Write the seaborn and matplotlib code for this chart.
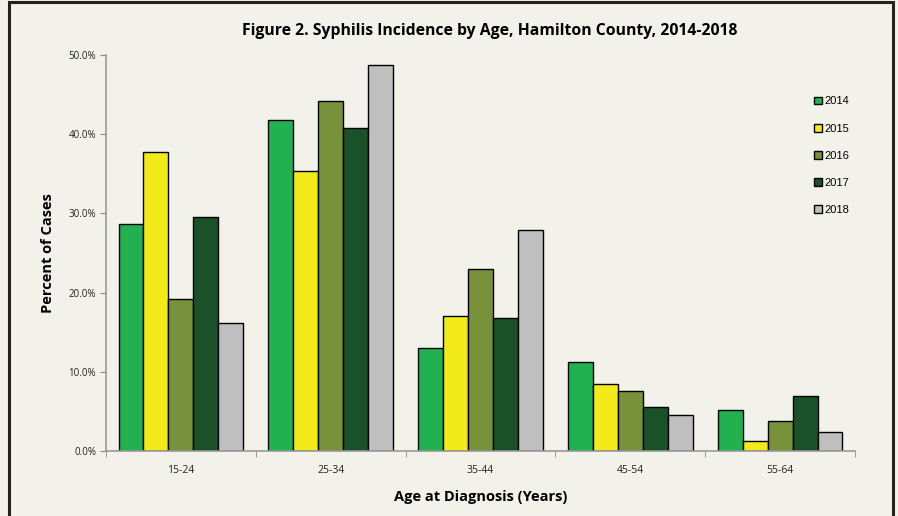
import matplotlib
matplotlib.use("Agg")
import matplotlib.pyplot as plt
import matplotlib.patches as mpatches
from matplotlib.ticker import PercentFormatter, FixedLocator
import seaborn as sns
import pandas as pd

age_groups = ['15-24', '25-34', '35-44', '45-54', '55-64']
years = ['2014', '2015', '2016', '2017', '2018']
pct_2014 = [28.7, 41.8, 13.0, 11.2, 5.2]
pct_2015 = [37.7, 35.4, 17.0, 8.5, 1.2]
pct_2016 = [19.2, 44.2, 23.0, 7.6, 3.8]
pct_2017 = [29.6, 40.8, 16.8, 5.6, 7.0]
pct_2018 = [16.2, 48.8, 27.9, 4.6, 2.4]
year_colors = ['#21B24F', '#F2EA19', '#77923A', '#1A5129', '#BFBFBF']

rows = []
for yr, vals in zip(years, [pct_2014, pct_2015, pct_2016, pct_2017, pct_2018]):
    for ag, v in zip(age_groups, vals):
        rows.append({'age': ag, 'year': yr, 'pct': v / 100})
df = pd.DataFrame(rows)

sns.set_style('white')
plt.rcParams['font.family'] = ['Open Sans', 'DejaVu Sans']
plt.rcParams['text.color'] = 'black'
plt.rcParams['axes.labelcolor'] = 'black'
plt.rcParams['xtick.color'] = 'black'
plt.rcParams['ytick.color'] = 'black'
bg = '#F2F2EA'

fig = plt.figure(figsize=(8.98, 5.16), dpi=100, facecolor=bg)
ax = fig.add_axes([106 / 898, 1 - 451 / 516, (855 - 106) / 898, (451 - 55) / 516])
ax.set_facecolor(bg)

sns.barplot(data=df, x='age', y='pct', hue='year', palette=year_colors,
            width=0.833, edgecolor='black', linewidth=1, saturation=1, ax=ax)

ax.set_xlim(-0.5, 4.5)
ax.set_ylim(0, 0.5)
ax.set_yticks([0, 0.1, 0.2, 0.3, 0.4, 0.5])
ax.yaxis.set_major_formatter(PercentFormatter(1.0, decimals=1))
ax.tick_params(axis='y', labelsize=7, length=4, color='#888888', labelcolor='#222222', left=True, pad=3)
ax.tick_params(axis='x', which='major', labelsize=7.5, length=0, labelcolor='#222222', pad=10)
ax.xaxis.set_minor_locator(FixedLocator([-0.5, 0.5, 1.5, 2.5, 3.5, 4.5]))
ax.tick_params(axis='x', which='minor', length=4, color='#888888', bottom=True)

for side in ['top', 'right']:
    ax.spines[side].set_visible(False)
for side in ['left', 'bottom']:
    ax.spines[side].set_color('#999999')
    ax.spines[side].set_linewidth(1.2)

ax.set_xlabel('Age at Diagnosis (Years)', fontsize=10.5, fontweight='bold', labelpad=10)
ax.set_ylabel('Percent of Cases', fontsize=10.5, fontweight='bold', labelpad=10)

leg = ax.legend(loc='upper left', bbox_to_anchor=(0.932, 0.921), frameon=False,
                prop={'family': ['Liberation Sans', 'DejaVu Sans'], 'size': 8},
                handlelength=0.7, handleheight=0.7, handletextpad=0.2,
                labelspacing=1.55)

fig.text(490 / 898, 1 - 31 / 516, 'Figure 2. Syphilis Incidence by Age, Hamilton County, 2014-2018',
         ha='center', va='center', fontsize=11.3, fontweight='bold')

frame = mpatches.Rectangle((9 / 898, -0.1), (893 - 9) / 898, 1.1 - 2 / 516,
                           transform=fig.transFigure, fill=False,
                           edgecolor='#222222', linewidth=2.2)
fig.patches.append(frame)

fig.savefig('out.png', dpi=100, facecolor=bg)
